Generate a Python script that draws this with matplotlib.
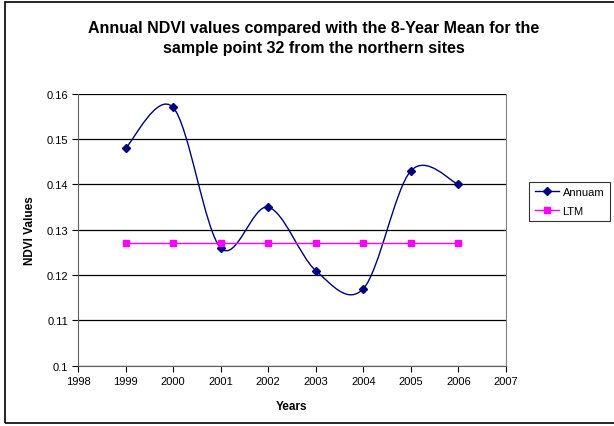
import matplotlib
matplotlib.use("Agg")
import matplotlib.pyplot as plt
from matplotlib.path import Path
from matplotlib.patches import PathPatch, Rectangle
from matplotlib.lines import Line2D

plt.rcParams['font.family'] = ['Liberation Sans', 'DejaVu Sans']

years = [1999, 2000, 2001, 2002, 2003, 2004, 2005, 2006]
annual = [0.148, 0.157, 0.126, 0.135, 0.121, 0.117, 0.143, 0.140]
ltm = [0.127, 0.127, 0.127, 0.127, 0.127, 0.127, 0.127, 0.127]

NAVY = "#000080"
MAGENTA = "#FF00FF"


def smooth_path(xs, ys):
    # Excel-like smoothing: cubic Bezier with Catmull-Rom style control points
    pts = list(zip(xs, ys))
    verts = [pts[0]]
    codes = [Path.MOVETO]
    n = len(pts)
    for i in range(n - 1):
        p0 = pts[i - 1] if i > 0 else pts[i]
        p1 = pts[i]
        p2 = pts[i + 1]
        p3 = pts[i + 2] if i + 2 < n else pts[i + 1]
        c1 = (p1[0] + (p2[0] - p0[0]) / 6, p1[1] + (p2[1] - p0[1]) / 6)
        c2 = (p2[0] - (p3[0] - p1[0]) / 6, p2[1] - (p3[1] - p1[1]) / 6)
        verts += [c1, c2, p2]
        codes += [Path.CURVE4] * 3
    return Path(verts, codes)


fig = plt.figure(figsize=(6.14, 4.27), dpi=100)
ax = fig.add_axes([0.127, 0.141, 0.697, 0.637])

ax.set_xlim(1998, 2007)
ax.set_ylim(0.1, 0.16)
ax.set_xticks(range(1998, 2008))
ax.set_yticks([0.1, 0.11, 0.12, 0.13, 0.14, 0.15, 0.16])
ax.set_yticklabels(["0.1", "0.11", "0.12", "0.13", "0.14", "0.15", "0.16"])
ax.yaxis.grid(True, color="black", linewidth=0.9)
ax.set_axisbelow(True)
ax.tick_params(axis="both", direction="out", length=4, width=0.8, labelsize=8, colors="black")
ax.tick_params(axis="y", pad=3)
for side in ["left", "bottom"]:
    ax.spines[side].set_color("#606060")
ax.spines["right"].set_color("#808080")
ax.spines["top"].set_visible(False)

ax.add_patch(PathPatch(smooth_path(years, annual), facecolor="none", edgecolor=NAVY, linewidth=1.0))
ax.plot(years, annual, linestyle="none", marker="D", markersize=4.5, color=NAVY)
ax.plot(years, ltm, color=MAGENTA, linewidth=1.0, marker="s", markersize=5)

ax.set_xlabel("Years", fontsize=8.5, fontweight="bold", labelpad=10)
ax.set_ylabel("NDVI Values", fontsize=8.5, fontweight="bold", labelpad=8)

fig.text(0.511, 0.91, "Annual NDVI values compared with the 8-Year Mean for the\nsample point 32 from the northern sites",
         ha="center", va="center", fontsize=11.5, fontweight="bold", linespacing=1.35)

handles = [Line2D([], [], color=NAVY, marker="D", markersize=4.5, linewidth=1.0),
           Line2D([], [], color=MAGENTA, marker="s", markersize=5, linewidth=1.0)]
leg = fig.legend(handles, ["Annuam", "LTM"], loc="upper left", bbox_to_anchor=(0.862, 0.572),
                 fontsize=8, frameon=True, fancybox=False, handlelength=2.2, handletextpad=0.3,
                 borderpad=0.5, labelspacing=0.75, borderaxespad=0)
leg.get_frame().set_edgecolor("black")
leg.get_frame().set_linewidth(0.8)

fig.patches.append(Rectangle((0.008, 0.006), 1.1, 0.988, transform=fig.transFigure,
                             fill=False, edgecolor="black", linewidth=1.2))

fig.savefig("out.png", dpi=100)
